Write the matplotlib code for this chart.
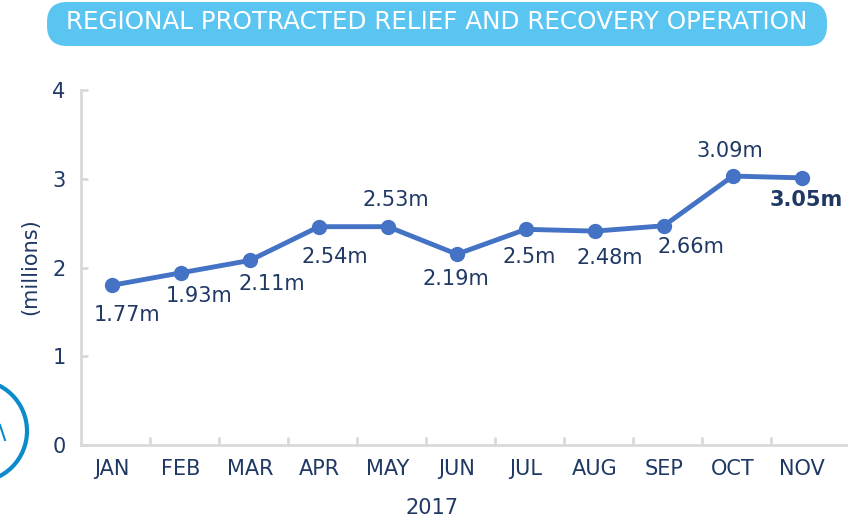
import numpy as np
import matplotlib
matplotlib.use("Agg")
import matplotlib.pyplot as plt
from matplotlib.patches import FancyBboxPatch, Circle
from matplotlib.lines import Line2D
from matplotlib.transforms import IdentityTransform

months = ["JAN", "FEB", "MAR", "APR", "MAY", "JUN", "JUL", "AUG", "SEP", "OCT", "NOV"]
# plotted positions (millions)
values = [1.80, 1.94, 2.08, 2.46, 2.46, 2.15, 2.43, 2.41, 2.47, 3.03, 3.01]
# value labels written next to each point
value_labels = ["1.77m", "1.93m", "2.11m", "2.54m", "2.53m", "2.19m",
                "2.5m", "2.48m", "2.66m", "3.09m", "3.05m"]
year = "2017"
title = "REGIONAL PROTRACTED RELIEF AND RECOVERY OPERATION"

navy = "#1f3864"
blue = "#4472c4"
grey = "#d9d9d9"

# label offsets in pixels (dx, dy)
offsets = [(15, -30), (18, -23), (22, -24), (16, -30), (8, 27), (-1, -25),
           (3, -28), (15, -27), (27, -21), (-3, 25), (4, -22)]

plt.rcParams['font.family'] = ['DejaVu Sans']

fig = plt.figure(figsize=(8.48, 5.22), dpi=100)
ax = fig.add_axes([81 / 848, 77 / 522, 1 - 81 / 848, 355 / 522])

x = np.arange(len(months))
ax.plot(x, values, color=blue, lw=3.5, marker="o", ms=10, zorder=3)

for i, (v, lab) in enumerate(zip(values, value_labels)):
    bold = i == len(values) - 1
    ax.annotate(lab, (x[i], v), xytext=offsets[i], textcoords="offset pixels",
                ha="center", va="center", fontsize=15, color=navy,
                fontweight="bold" if bold else "normal")

ax.set_xlim(-0.45, 10.67)
ax.set_ylim(0, 4)
ax.set_yticks([0, 1, 2, 3, 4])
ax.set_xticks(x)
ax.set_xticklabels(months)
ax.set_xticks(x[:-1] + 0.55, minor=True)

for s in ["top", "right"]:
    ax.spines[s].set_visible(False)
for s in ["left", "bottom"]:
    ax.spines[s].set_color(grey)
    ax.spines[s].set_linewidth(2)

ax.tick_params(axis="x", which="major", length=0, pad=10, labelsize=15, labelcolor=navy)
ax.tick_params(axis="x", which="minor", direction="in", length=6, width=2, color=grey)
ax.tick_params(axis="y", direction="in", length=5, width=2, color=grey, pad=11,
               labelsize=15, labelcolor=navy)

fig.text(432 / 848, 1 - 508 / 522, year, ha="center", va="center", fontsize=15, color=navy)
fig.text(30 / 848, 1 - 267 / 522, "(millions)", ha="center", va="center",
         rotation=90, fontsize=15, color=navy)

# title banner
box = FancyBboxPatch((47, 476), 780, 44, boxstyle="round,pad=0,rounding_size=20",
                     transform=IdentityTransform(), facecolor="#5bc5f2",
                     edgecolor="none", figure=fig)
fig.patches.append(box)
fig.text(437 / 848, 1 - 22 / 522, title, ha="center", va="center",
         fontsize=17.7, color="white")

# partial logo on the left edge
logo = Circle((-24, 91), 51, transform=IdentityTransform(), facecolor="none",
              edgecolor="#0a8ccc", lw=3, figure=fig)
fig.patches.append(logo)
fig.lines.append(Line2D([0, 5], [97, 82], transform=IdentityTransform(),
                        color="#0a8ccc", lw=1.5, figure=fig))

fig.savefig("out.png", dpi=100)
